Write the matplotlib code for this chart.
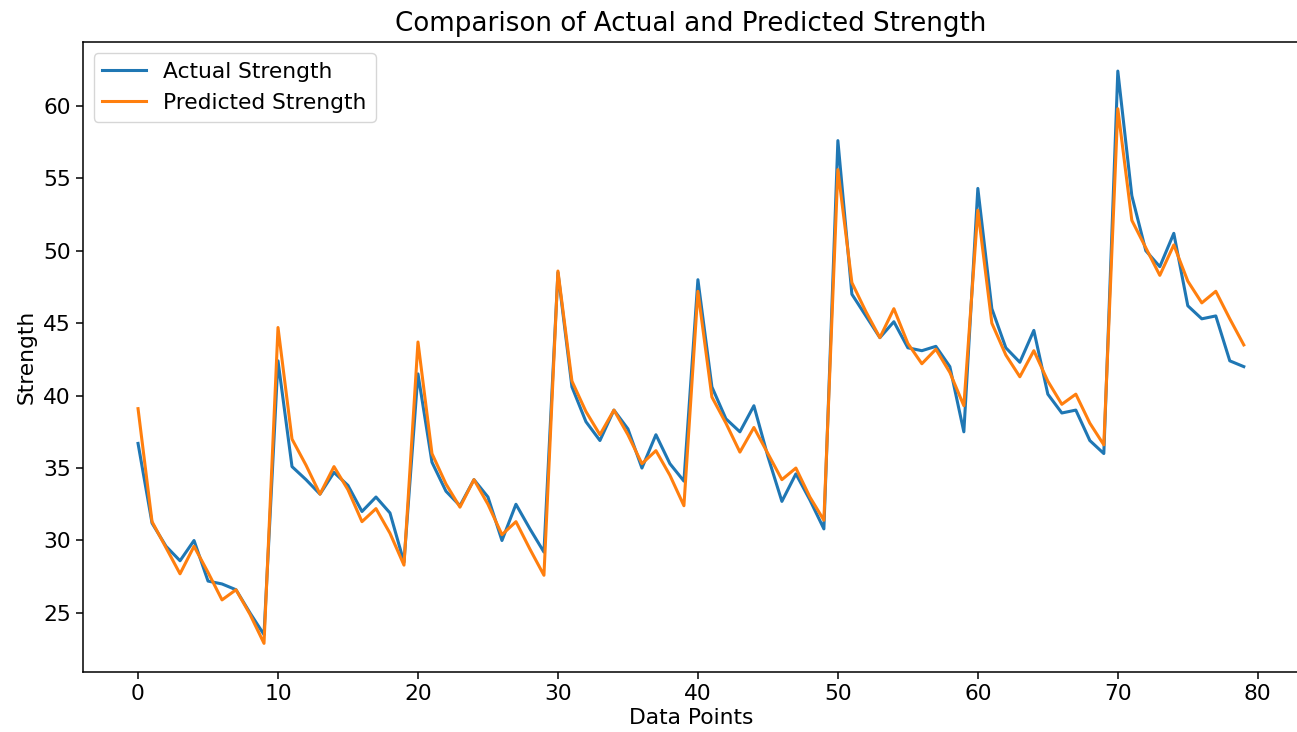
import matplotlib
matplotlib.use("Agg")
import matplotlib.pyplot as plt
import numpy as np

actual = [36.7, 31.2, 29.6, 28.6, 30.0, 27.2, 27.0, 26.6, 25.0, 23.5,
          42.4, 35.1, 34.2, 33.2, 34.7, 33.8, 32.0, 33.0, 31.9, 28.5,
          41.5, 35.4, 33.4, 32.4, 34.2, 33.0, 30.0, 32.5, 30.8, 29.2,
          48.5, 40.6, 38.2, 36.9, 39.0, 37.7, 35.0, 37.3, 35.3, 34.1,
          48.0, 40.6, 38.4, 37.5, 39.3, 35.8, 32.7, 34.6, 32.8, 30.8,
          57.6, 47.0, 45.5, 44.0, 45.1, 43.3, 43.1, 43.4, 42.0, 37.5,
          54.3, 46.0, 43.3, 42.3, 44.5, 40.1, 38.8, 39.0, 36.9, 36.0,
          62.4, 53.8, 50.0, 48.9, 51.2, 46.2, 45.3, 45.5, 42.4, 42.0]

predicted = [39.1, 31.3, 29.5, 27.7, 29.6, 27.8, 25.9, 26.6, 24.9, 22.9,
             44.7, 37.0, 35.2, 33.2, 35.1, 33.5, 31.3, 32.2, 30.5, 28.3,
             43.7, 36.0, 33.9, 32.3, 34.2, 32.5, 30.4, 31.3, 29.4, 27.6,
             48.6, 41.0, 38.9, 37.3, 39.0, 37.3, 35.3, 36.2, 34.5, 32.4,
             47.2, 39.9, 38.1, 36.1, 37.8, 36.0, 34.2, 35.0, 33.0, 31.4,
             55.6, 47.8, 45.8, 44.0, 46.0, 43.6, 42.2, 43.2, 41.6, 39.3,
             52.8, 45.0, 42.8, 41.3, 43.1, 41.0, 39.4, 40.1, 38.1, 36.6,
             59.8, 52.1, 50.2, 48.3, 50.4, 47.9, 46.4, 47.2, 45.3, 43.5]

x = np.arange(len(actual))

fig = plt.figure(figsize=(12.97, 7.32), dpi=100)
ax = fig.add_axes([0.0638, 0.082, 0.9378, 0.860])
ax.plot(x, actual, color="#1f77b4", lw=2.2, label="Actual Strength")
ax.plot(x, predicted, color="#ff7f0e", lw=2.2, label="Predicted Strength")
ax.set_title("Comparison of Actual and Predicted Strength", fontsize=18.8, pad=8)
ax.set_xlabel("Data Points", fontsize=15.7, labelpad=3)
ax.set_ylabel("Strength", fontsize=15.7, labelpad=5)
ax.tick_params(labelsize=15.7, length=5, width=1.1)
for s in ax.spines.values():
    s.set_linewidth(1.1)
ax.legend(loc="upper left", fontsize=15.7)
fig.savefig("out.png", dpi=100)
